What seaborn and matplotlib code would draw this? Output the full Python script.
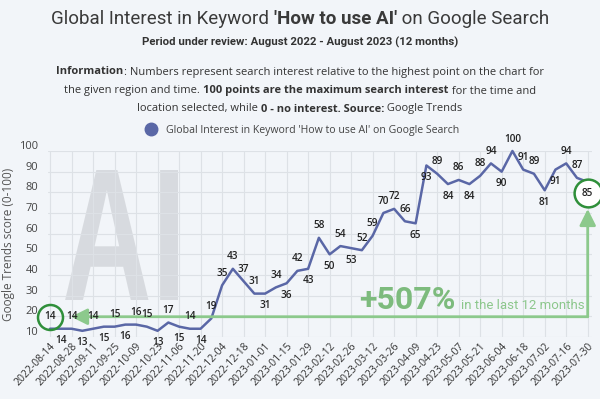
import matplotlib
matplotlib.use('Agg')
import numpy as np
import pandas as pd
import matplotlib.pyplot as plt
import seaborn as sns
from matplotlib.lines import Line2D
from matplotlib.patches import PathPatch
from matplotlib.textpath import TextPath
from matplotlib.font_manager import FontProperties
from matplotlib.transforms import offset_copy, ScaledTranslation, IdentityTransform, Affine2D

# weekly Google Trends scores, 2022-08-14 .. 2023-07-30
weeks = pd.date_range('2022-08-14', '2023-07-30', freq='7D')
scores = [14, 14, 14, 13, 14, 15, 15, 16, 16, 15,
          13, 17, 15, 14, 14, 19, 35, 43, 37, 31,
          31, 34, 36, 42, 43, 58, 50, 54, 53, 52,
          59, 70, 72, 66, 65, 93, 89, 84, 86, 84,
          88, 94, 90, 100, 91, 89, 81, 91, 94, 87,
          85]
# where each value label sits: A = above the line, B = below
label_side = ("ABABABABAA" "BABABAAAAA" "BABABABABA"
              "AAAABBABAB" "AABAAABBAA" "B")
series_name = "Global Interest in Keyword 'How to use AI' on Google Search"
change_text = "+507%"

df = pd.DataFrame({'week': weeks, 'score': scores})
df['pos'] = np.arange(len(df))

bg = '#f2f5f9'
line_color = '#5a67a6'
green_dark = '#2f8f3a'
green_light = '#8cc98c'

sns.set_style('whitegrid')
plt.rcParams['font.family'] = ['Open Sans', 'DejaVu Sans']

fig = plt.figure(figsize=(6, 3.99), dpi=100, facecolor=bg)
ax = fig.add_axes([48 / 600, 1 - 337 / 399, 544 / 600, 186 / 399])
ax.set_facecolor('none')

sns.lineplot(data=df, x='pos', y='score', ax=ax, color=line_color, lw=1.8,
             zorder=3, clip_on=False)

ax.set_xlim(-0.19, len(df) - 1 + 0.4)
ax.set_ylim(10, 100)
ax.set_yticks(range(10, 101, 10))
ax.set_xticks(df['pos'][::2])
ax.set_xticklabels(df['week'][::2].dt.strftime('%Y-%m-%d'), rotation=47,
                   ha='right', va='top', rotation_mode='anchor',
                   fontsize=7.5, color='#333333')
ax.tick_params(axis='both', length=0)
ax.tick_params(axis='x', pad=3)
ax.tick_params(axis='y', pad=7, labelsize=8, labelcolor='#444444')
for lab in ax.get_yticklabels():
    lab.set_transform(lab.get_transform() + ScaledTranslation(0, 6 / 100, fig.dpi_scale_trans))
ax.grid(True, color='#dde1e6', lw=0.8)
for s in ax.spines.values():
    s.set_visible(False)
ax.set_xlabel('')
ax.set_ylabel('Google Trends score (0-100)', fontsize=8.5, color='#555555')
ax.yaxis.set_label_coords(-0.06, 0.5)

# value labels
for p, v, side in zip(df['pos'][:-1], df['score'][:-1], label_side):
    dy = 12 if side == 'A' else -12
    ax.annotate(str(v), (p, v), xytext=(0, dy), textcoords='offset pixels',
                ha='center', va='center', fontsize=7.2, fontweight='semibold',
                color='#222222', zorder=5, annotation_clip=False)

# green markers: first and last value, arrows
first_lab = offset_copy(ax.transData, fig=fig, y=12, units='dots')
last_lab = offset_copy(ax.transData, fig=fig, y=-11, units='dots')
last = df['pos'].iloc[-1]
ax.plot([0], [scores[0]], marker='o', ms=18, mfc='none', mec=green_dark, mew=1.8,
        transform=first_lab, zorder=6, clip_on=False)
ax.plot([last], [scores[-1]], marker='o', ms=20, mfc='white', mec=green_dark,
        mew=1.8, transform=last_lab, zorder=6, clip_on=False)
ax.annotate(str(scores[-1]), (last, scores[-1]), xytext=(0, -11),
            textcoords='offset pixels', ha='center', va='center', fontsize=7.2,
            fontweight='semibold', color='#222222', zorder=7, annotation_clip=False)

arrow = dict(arrowstyle='-|>,head_width=0.35,head_length=0.7', color=green_light,
             lw=2, mutation_scale=14, shrinkA=0, shrinkB=0)
ax.annotate('', xy=(0, scores[0]), xycoords=offset_copy(ax.transData, fig=fig, x=21, y=12, units='dots'),
            xytext=(last, scores[0]), textcoords=first_lab, arrowprops=arrow, zorder=4,
            annotation_clip=False)
ax.annotate('', xy=(last, scores[-1]), xycoords=offset_copy(ax.transData, fig=fig, y=-27, units='dots'),
            xytext=(last, scores[0]), textcoords=first_lab, arrowprops=arrow, zorder=4,
            annotation_clip=False)

fig.text(455 / 600, 1 - 309 / 399, change_text, ha='right', va='baseline', fontsize=23,
         fontweight='bold', family='Roboto', color='#7dbb7d')
fig.text(461 / 600, 1 - 309 / 399, 'in the last 12 months', ha='left', va='baseline',
         fontsize=9.5, family='Roboto', color='#8cc78c')

# "AI" watermark, squeezed to the reference box
tp = TextPath((0, 0), 'AI', size=100, prop=FontProperties(family='Liberation Sans', weight='bold'))
v = tp.vertices
x0, x1, y0, y1 = v[:, 0].min(), v[:, 0].max(), v[:, 1].min(), v[:, 1].max()
tr = Affine2D().translate(-x0, -y0).scale(116 / (x1 - x0), 130 / (y1 - y0)).translate(62, 399 - 300)
wm = PathPatch(tr.transform_path(tp), transform=IdentityTransform(), color='#b8bbc0',
               alpha=0.45, lw=0, zorder=-1)
fig.patches.append(wm)


def rich_line(y, parts, size, family, color):
    r = fig.canvas.get_renderer()
    items = []
    for s, bold in parts:
        t = fig.text(0, y, s, fontsize=size, family=family, color=color, va='center',
                     fontweight='bold' if bold else 'normal')
        items.append((t, t.get_window_extent(r).width))
    x = (fig.bbox.width - sum(w for _, w in items)) / 2
    for t, w in items:
        t.set_x(x / fig.bbox.width)
        x += w


rich_line(1 - 19 / 399, [('Global Interest in Keyword ', False), ("'How to use AI'", True),
                         (' on Google Search', False)], 13.5, 'Roboto', '#3a3a3a')
fig.text(0.5, 1 - 42 / 399, 'Period under review: August 2022 - August 2023 (12 months)',
         ha='center', va='center', fontsize=8.2, fontweight='bold', family='Roboto', color='#333333')
info = '#333333'
rich_line(1 - 72 / 399, [('Information', True), (': Numbers represent search interest relative to the highest point on the chart for', False)],
          8, 'Open Sans', info)
rich_line(1 - 91 / 399, [('the given region and time. ', False), ('100 points are the maximum search interest', True),
                         (' for the time and', False)], 8, 'Open Sans', info)
rich_line(1 - 109 / 399, [('location selected, while ', False), ('0 - no interest. Source:', True),
                          (' Google Trends', False)], 8, 'Open Sans', info)

handle = Line2D([], [], marker='o', ls='', color=line_color, markersize=9)
fig.legend([handle], [series_name], loc='center', bbox_to_anchor=(0.5, 1 - 130 / 399),
           frameon=False, fontsize=7.6, handletextpad=0.4, labelcolor='#444444')

fig.savefig('out.png', dpi=100, facecolor=bg)
